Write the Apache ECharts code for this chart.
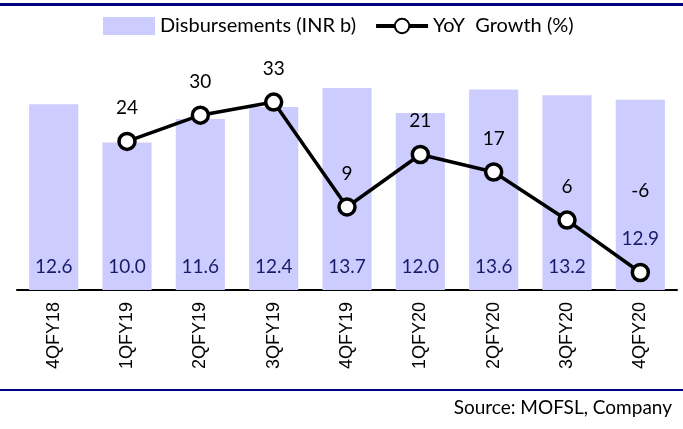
<!DOCTYPE html>
<html>
<head>
<meta charset="utf-8">
<script src="https://cdn.jsdelivr.net/npm/echarts@6/dist/echarts.min.js"></script>
<style>
  html, body { margin: 0; padding: 0; background: #fff; }
  #chart { width: 683px; height: 429px; }
</style>
</head>
<body>
<div id="chart"></div>
<script>
'use strict';
// quarters on the x axis
var quarters = ['4QFY18', '1QFY19', '2QFY19', '3QFY19', '4QFY19', '1QFY20', '2QFY20', '3QFY20', '4QFY20'];
// disbursements, INR b
var disbursements = [12.6, 10.0, 11.6, 12.4, 13.7, 12.0, 13.6, 13.2, 12.9];
// yoy growth, % (no value for the first quarter)
var yoyGrowth = [null, 24, 30, 33, 9, 21, 17, 6, -6];

var FONT = 'Lato, "Open Sans", sans-serif';

var chart = echarts.init(document.getElementById('chart'));

// last bar label sits higher so the line point does not cover it
var barData = disbursements.map(function (v, i) {
	if (i === disbursements.length - 1) {
		return { value: v, label: { distance: 42 } };
	}
	return v;
});
// last growth label is pushed well above the bar label
var lineData = yoyGrowth.map(function (v, i) {
	if (i === yoyGrowth.length - 1) {
		return { value: v, label: { distance: 62 } };
	}
	return v;
});

chart.setOption({
	animation: false,
	textStyle: { fontFamily: FONT },
	graphic: [
		{ type: 'rect', shape: { x: 0, y: 3, width: 683, height: 3 }, style: { fill: '#000080' } },
		{ type: 'rect', shape: { x: 0, y: 389, width: 683, height: 2 }, style: { fill: '#000080' } },
		{
			type: 'text', right: 11, top: 398,
			style: { text: 'Source: MOFSL, Company', font: '19px ' + FONT, fill: '#000' }
		}
	],
	legend: {
		top: 11,
		left: 98,
		itemGap: 18,
		itemWidth: 52,
		itemHeight: 18,
		textStyle: { fontSize: 20, color: '#000', fontFamily: FONT },
		data: [
			{ name: 'Disbursements (INR b)', icon: 'rect' },
			{ name: 'YoY  Growth (%)', lineStyle: { width: 4 } }
		]
	},
	grid: { left: 17, right: 6, top: 54, bottom: 139 },
	xAxis: {
		type: 'category',
		data: quarters,
		axisLine: { lineStyle: { color: '#000', width: 2 } },
		axisTick: { show: false },
		axisLabel: { rotate: 90, fontSize: 18, color: '#000', margin: 12, fontFamily: '"Liberation Sans", Arial, sans-serif' }
	},
	yAxis: [
		{ type: 'value', min: 0, max: 16, show: false, splitLine: { show: false } },
		{ type: 'value', min: -10, max: 44, show: false, splitLine: { show: false } }
	],
	series: [
		{
			name: 'Disbursements (INR b)',
			type: 'bar',
			data: barData,
			barCategoryGap: '33%',
			itemStyle: { color: '#ccccff' },
			label: {
				show: true,
				position: 'insideBottom',
				distance: 14,
				fontSize: 19,
				color: '#1a1a6b',
				fontFamily: FONT,
				formatter: function (p) { return p.value.toFixed(1); }
			}
		},
		{
			name: 'YoY  Growth (%)',
			type: 'line',
			yAxisIndex: 1,
			data: lineData,
			connectNulls: false,
			symbol: 'circle',
			symbolSize: 16,
			lineStyle: { color: '#000', width: 3.5 },
			itemStyle: { color: '#fff', borderColor: '#000', borderWidth: 3.5 },
			label: {
				show: true,
				position: 'top',
				distance: 14,
				fontSize: 19,
				color: '#000',
				fontFamily: FONT
			}
		}
	]
});
</script>
</body>
</html>
